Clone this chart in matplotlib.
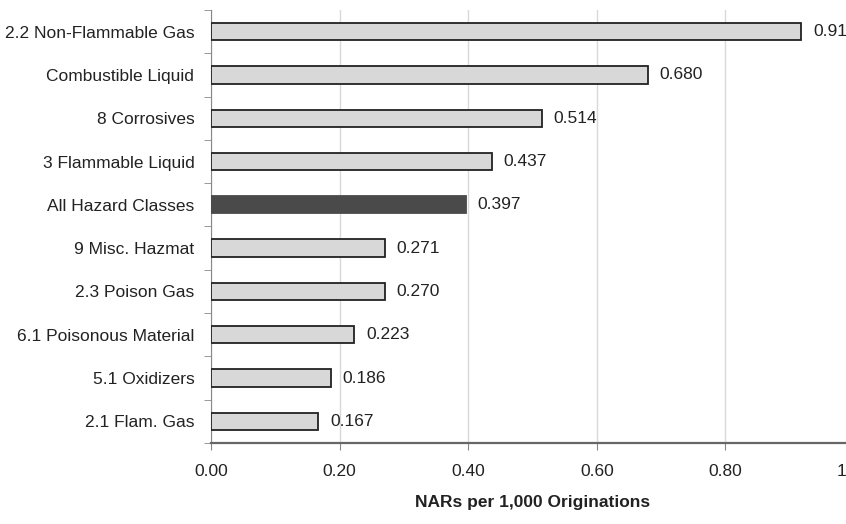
import numpy as np
import matplotlib.pyplot as plt
from matplotlib.ticker import FixedLocator

# hazard classes, top to bottom
classes = ["2.2 Non-Flammable Gas", "Combustible Liquid", "8 Corrosives",
           "3 Flammable Liquid", "All Hazard Classes", "9 Misc. Hazmat",
           "2.3 Poison Gas", "6.1 Poisonous Material", "5.1 Oxidizers",
           "2.1 Flam. Gas"]
rates = [0.918, 0.680, 0.514, 0.437, 0.397, 0.271, 0.270, 0.223, 0.186, 0.167]
xticks = [0.0, 0.2, 0.4, 0.6, 0.8, 1.0]
xticklabels = ["0.00", "0.20", "0.40", "0.60", "0.80", "1.00"]

plt.rcParams['font.family'] = ['Liberation Sans Narrow', 'Liberation Sans', 'DejaVu Sans']

fig = plt.figure(figsize=(8.46, 5.24), dpi=100)
ax = fig.add_axes([0.2494, 0.1546, 0.7601, 0.8264])

y = np.arange(len(classes))[::-1]
colors = ["#4a4a4a" if c == "All Hazard Classes" else "#d8d8d8" for c in classes]
edges = ["#4a4a4a" if c == "All Hazard Classes" else "#222222" for c in classes]
ax.barh(y, rates, height=0.4, color=colors, edgecolor=edges, linewidth=1.3, zorder=3)

for yi, v in zip(y, rates):
    ax.text(v + 0.018, yi, "%.3f" % v, va='center', ha='left', fontsize=12.5,
            color="#222222")

ax.set_xlim(0, 1.0)
ax.set_ylim(-0.5, len(classes) - 0.5)
ax.set_xticks(xticks)
ax.set_xticklabels(xticklabels, fontsize=12.5, color="#222222")
ax.set_yticks(y)
ax.set_yticklabels(classes, fontsize=12.5, color="#222222")
ax.tick_params(axis='y', which='major', length=0, pad=12)
ax.yaxis.set_minor_locator(FixedLocator(np.arange(-0.5, len(classes), 1.0)))
ax.tick_params(axis='y', which='minor', length=5, color="#888888")
ax.tick_params(axis='x', length=5, color="#888888", pad=10)

ax.grid(axis='x', color="#d9d9d9", linewidth=1, zorder=0)
for s in ['top', 'right']:
    ax.spines[s].set_visible(False)
ax.spines['left'].set_color("#888888")
ax.spines['bottom'].set_color("#666666")
ax.spines['bottom'].set_linewidth(1.6)

ax.set_xlabel("NARs per 1,000 Originations", fontsize=12.5, fontweight='bold',
              labelpad=12, color="#222222")

plt.savefig("out.png", dpi=100)
